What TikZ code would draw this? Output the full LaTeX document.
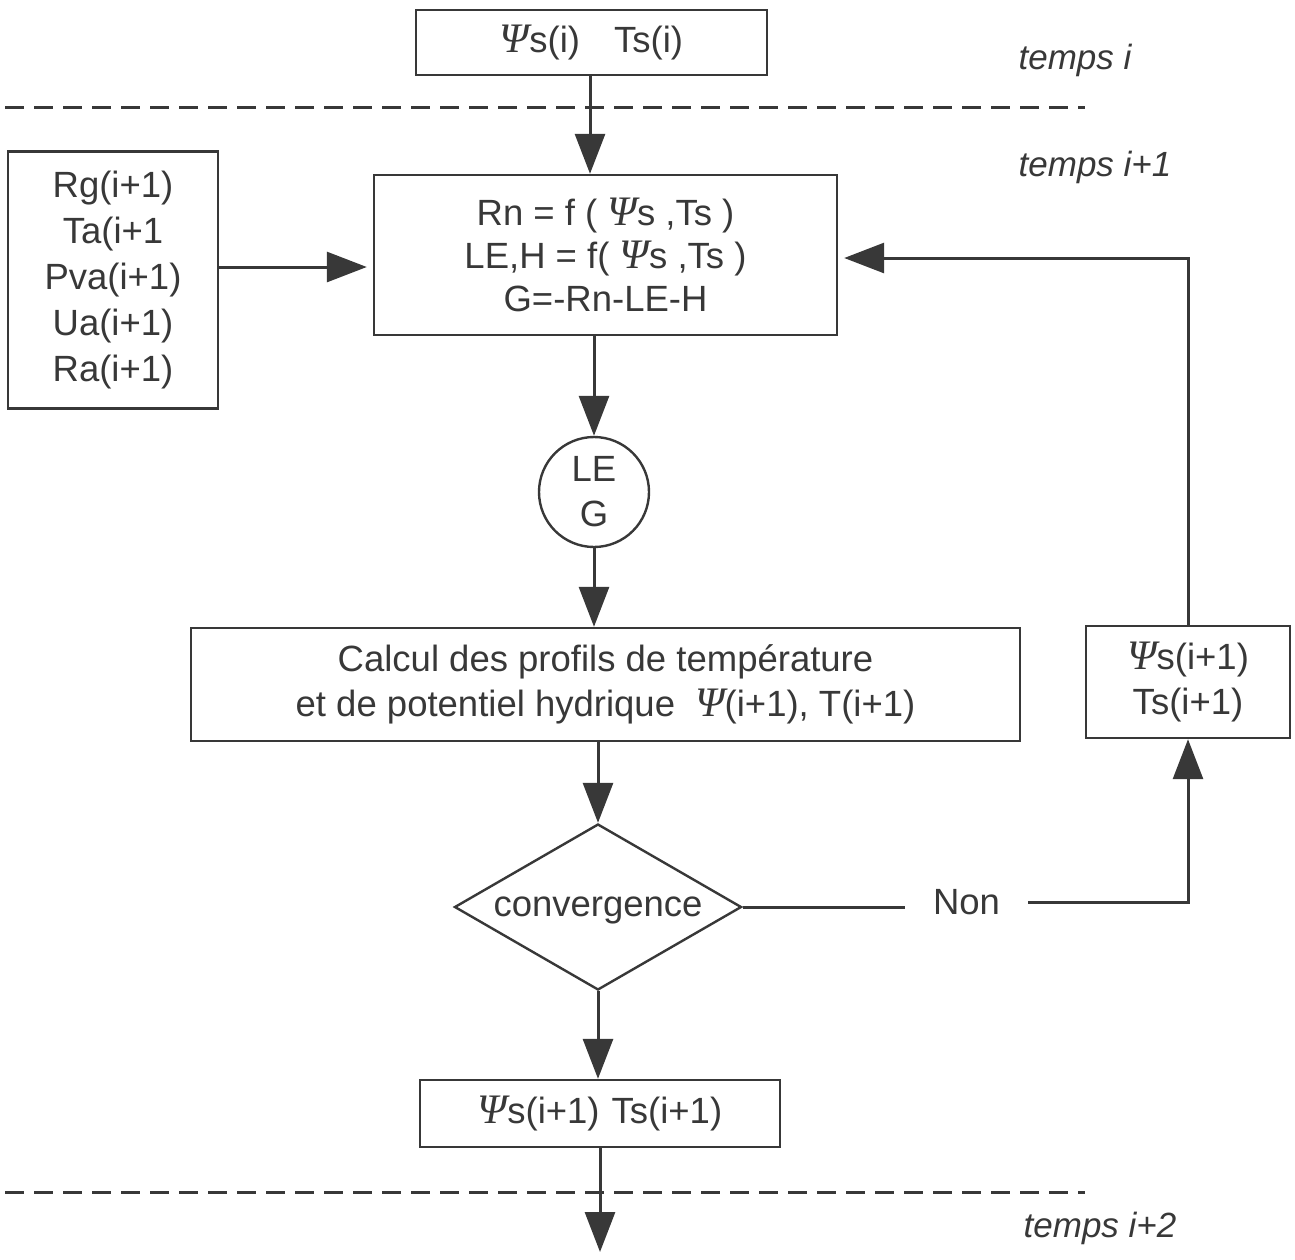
\documentclass[tikz,border=0pt]{standalone}
\usepackage{fontspec}
\setmainfont{Liberation Sans}
\newfontfamily\psifont{Liberation Serif}
\usetikzlibrary{arrows.meta,shapes.geometric}
\newcommand{\Ps}{{\psifont\itshape\fontsize{42}{45}\selectfont Ψ}}
\definecolor{ink}{gray}{0.22}
\begin{document}
\begin{tikzpicture}[x=1pt,y=-1pt,
  every node/.style={text=ink,font=\fontsize{36.5}{45}\selectfont,align=center,inner sep=0pt},
  box/.style={draw=ink,line width=2.4pt,rectangle},
  flow/.style={draw=ink,line width=3pt,-{Triangle[length=40pt,width=30pt]}},
  link/.style={draw=ink,line width=3pt},
  sep/.style={draw=ink,line width=3pt,dash pattern=on 19pt off 10pt},
  timelabel/.style={font=\fontsize{35}{40}\selectfont\itshape}]
\useasboundingbox (0,0) rectangle (1295,1259);

% boxes of the iteration
\node[box,minimum width=351pt,minimum height=65pt] (prev) at (591.5,42.5) {\Ps s(i)\hspace{34pt}Ts(i)};
\node[box,minimum width=210pt,minimum height=257pt,font=\fontsize{36.5}{46}\selectfont] (forcing) at (113,280)
  {Rg(i+1)\\Ta(i+1\\Pva(i+1)\\Ua(i+1)\\Ra(i+1)};
\node[box,minimum width=463pt,minimum height=160pt,font=\fontsize{36.5}{43}\selectfont] (balance) at (605.5,255)
  {Rn = f ( \Ps s ,Ts )\\LE,H = f( \Ps s ,Ts )\\G=-Rn-LE-H};
\node[draw=ink,line width=2.4pt,circle,minimum size=110pt] (flux) at (594,492) {LE\\G};
\node[box,minimum width=829pt,minimum height=113pt] (profiles) at (605.5,684.5)
  {Calcul des profils de température\\et de potentiel hydrique\hspace{20pt}\Ps(i+1), T(i+1)};
\node[draw=ink,line width=2.4pt,diamond,aspect=1.75,minimum width=287pt,minimum height=166pt] (conv) at (598,907) {};
\node (convtext) at (598,910) {convergence};
\node[minimum width=123pt] (non) at (966.5,902) {Non};
\node[box,minimum width=204pt,minimum height=112pt] (retry) at (1188,682) {\Ps s(i+1)\\Ts(i+1)};
\node[box,minimum width=360pt,minimum height=67pt] (next) at (600,1113.5) {\Ps s(i+1)\hspace{12pt}Ts(i+1)};
\coordinate (out) at (600,1252);

% time steps
\draw[sep] (5,107) -- (1085,107);
\draw[sep] (5,1192) -- (1085,1192);
\node[timelabel] (ti) at (1075,60) {temps i};
\node[timelabel] (ti1) at (1095,167) {temps i+1};
\node[timelabel] (ti2) at (1100,1228) {temps i+2};

% connectors
\draw[flow] (prev.south -| 590,0) -- (balance.north -| 590,0);
\draw[flow] (forcing.east |- 0,267) -- ([xshift=-6pt]balance.west |- 0,267);
\draw[flow] (balance.south -| flux.center) -- (flux.north);
\draw[flow] (flux.south) -- (flux.south |- profiles.north);
\draw[flow] (conv.north |- profiles.south) -- (conv.north);
\draw[flow] (conv.south) -- (conv.south |- next.north);
\draw[flow] (next.south) -- (out);
\draw[link] (conv.east) -- (non.west |- conv.east);
\draw[flow] (non.east) -| (retry.south);
\draw[flow] (retry.north) |- ([xshift=6pt]balance.east |- 0,258);
\end{tikzpicture}
\end{document}
